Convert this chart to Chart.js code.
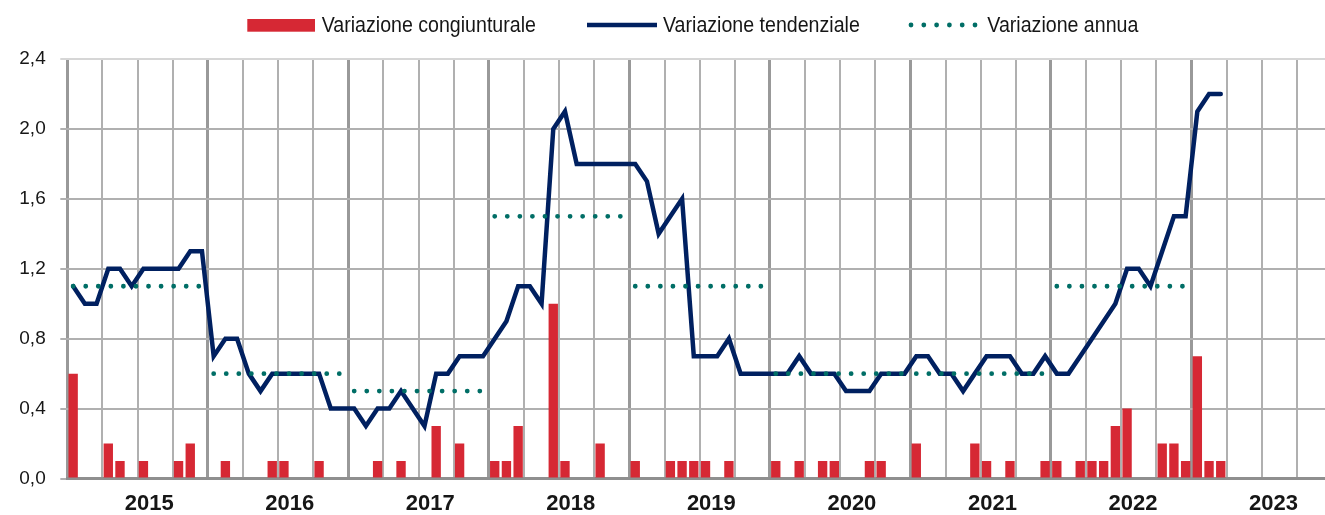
<!DOCTYPE html>
<html>
<head>
<meta charset="utf-8">
<script src="https://cdn.jsdelivr.net/npm/chart.js@4.4.1/dist/chart.umd.min.js"></script>
<style>
  html, body { margin: 0; padding: 0; background: #ffffff; overflow: hidden; }
  #wrap { position: relative; width: 1340px; height: 515px; }
</style>
</head>
<body>
<div id="wrap"><canvas id="c"></canvas></div>
<script>
// ---------------- DATA ----------------
const years = ['2015', '2016', '2017', '2018', '2019', '2020', '2021', '2022', '2023'];
const monthNames = ['gen', 'feb', 'mar', 'apr', 'mag', 'giu', 'lug', 'ago', 'set', 'ott', 'nov', 'dic'];

// Variazione congiunturale (monthly, Jan 2015 - Mar 2023)
const congiunturale = [
  0.6, 0, 0, 0.2, 0.1, 0, 0.1, 0, 0, 0.1, 0.2, 0,      // 2015
  0, 0.1, 0, 0, 0, 0.1, 0.1, 0, 0, 0.1, 0, 0,          // 2016
  0, 0, 0.1, 0, 0.1, 0, 0, 0.3, 0, 0.2, 0, 0,          // 2017
  0.1, 0.1, 0.3, 0, 0, 1.0, 0.1, 0, 0, 0.2, 0, 0,      // 2018
  0.1, 0, 0, 0.1, 0.1, 0.1, 0.1, 0, 0.1, 0, 0, 0,      // 2019
  0.1, 0, 0.1, 0, 0.1, 0.1, 0, 0, 0.1, 0.1, 0, 0,      // 2020
  0.2, 0, 0, 0, 0, 0.2, 0.1, 0, 0.1, 0, 0, 0.1,        // 2021
  0.1, 0, 0.1, 0.1, 0.1, 0.3, 0.4, 0, 0, 0.2, 0.2, 0.1,// 2022
  0.7, 0.1, 0.1                                        // 2023
];

// Variazione tendenziale (monthly, Jan 2015 - Mar 2023)
const tendenziale = [
  1.1, 1.0, 1.0, 1.2, 1.2, 1.1, 1.2, 1.2, 1.2, 1.2, 1.3, 1.3, // 2015
  0.7, 0.8, 0.8, 0.6, 0.5, 0.6, 0.6, 0.6, 0.6, 0.6, 0.4, 0.4, // 2016
  0.4, 0.3, 0.4, 0.4, 0.5, 0.4, 0.3, 0.6, 0.6, 0.7, 0.7, 0.7, // 2017
  0.8, 0.9, 1.1, 1.1, 1.0, 2.0, 2.1, 1.8, 1.8, 1.8, 1.8, 1.8, // 2018
  1.8, 1.7, 1.4, 1.5, 1.6, 0.7, 0.7, 0.7, 0.8, 0.6, 0.6, 0.6, // 2019
  0.6, 0.6, 0.7, 0.6, 0.6, 0.6, 0.5, 0.5, 0.5, 0.6, 0.6, 0.6, // 2020
  0.7, 0.7, 0.6, 0.6, 0.5, 0.6, 0.7, 0.7, 0.7, 0.6, 0.6, 0.7, // 2021
  0.6, 0.6, 0.7, 0.8, 0.9, 1.0, 1.2, 1.2, 1.1, 1.3, 1.5, 1.5, // 2022
  2.1, 2.2, 2.2                                               // 2023
];

// Variazione annua (one value per year 2015 - 2022)
const annua = [1.1, 0.6, 0.5, 1.5, 1.1, 0.6, 0.6, 1.1];

// y-axis ticks
const yMin = 0, yMax = 2.4, yStep = 0.4;

// ---------------- BUILD ----------------
const labels = [];
years.forEach(y => monthNames.forEach(m => labels.push(m + ' ' + y)));
const annuaMonthly = labels.map((_, i) => {
  const yi = Math.floor(i / 12);
  return yi < annua.length ? annua[yi] : null;
});

const RED = '#d62834';
const NAVY = '#002060';
const TEAL = '#006e66';
const FONT = "'Liberation Sans', Arial, Helvetica, sans-serif";
const TEXT = '#161616';
const CAT_W = 11.71;

const legendPlugin = {
  id: 'customLegend',
  afterDraw(chart) {
    const ctx = chart.ctx;
    const ds = chart.data.datasets;
    const cy = 25;
    ctx.save();
    // bar swatch
    ctx.fillStyle = RED;
    ctx.fillRect(247.3, 19, 67.7, 12.7);
    // line swatch
    ctx.strokeStyle = NAVY;
    ctx.lineWidth = 4.5;
    ctx.beginPath();
    ctx.moveTo(587, cy);
    ctx.lineTo(657, cy);
    ctx.stroke();
    // dotted swatch
    ctx.fillStyle = TEAL;
    for (let k = 0; k < 6; k++) {
      ctx.beginPath();
      ctx.arc(911 + k * 12.8, cy, 2.4, 0, Math.PI * 2);
      ctx.fill();
    }
    // texts
    ctx.fillStyle = TEXT;
    ctx.font = '19.6px ' + FONT;
    ctx.textBaseline = 'alphabetic';
    ctx.textAlign = 'left';
    const items = [[ds[2].label, 321.7], [ds[1].label, 663], [ds[0].label, 987.3]];
    items.forEach(([t, x]) => {
      ctx.save();
      ctx.translate(x, 32.3);
      ctx.scale(1, 1.12);
      ctx.fillText(t, 0, 0);
      ctx.restore();
    });
    ctx.restore();
  }
};

const chart = new Chart(document.getElementById('c'), {
  type: 'bar',
  data: {
    labels: labels,
    datasets: [
      {
        type: 'line',
        label: 'Variazione annua',
        data: annuaMonthly,
        borderColor: TEAL,
        borderWidth: 4.8,
        borderDash: [0.01, 12.55],
        borderCapStyle: 'round',
        pointRadius: 0,
        tension: 0,
        fill: false,
        spanGaps: false,
        order: 0,
        segment: {
          borderColor: ctx => (ctx.p0DataIndex % 12 === 11 ? 'rgba(0,0,0,0)' : TEAL)
        }
      },
      {
        type: 'line',
        label: 'Variazione tendenziale',
        data: tendenziale,
        borderColor: NAVY,
        borderWidth: 4.5,
        borderCapStyle: 'round',
        borderJoinStyle: 'miter',
        pointRadius: 0,
        tension: 0,
        fill: false,
        order: 1
      },
      {
        type: 'bar',
        label: 'Variazione congiunturale',
        data: congiunturale,
        backgroundColor: RED,
        borderWidth: 0,
        barPercentage: 0.8,
        categoryPercentage: 1.0,
        order: 2
      }
    ]
  },
  options: {
    responsive: true,
    maintainAspectRatio: false,
    animation: false,
    events: [],
    layout: { padding: { left: 0, right: 8, top: 59, bottom: 0 } },
    plugins: {
      legend: { display: false },
      tooltip: { enabled: false },
      title: { display: false }
    },
    scales: {
      x: {
        type: 'category',
        offset: true,
        grid: {
          offset: true,
          drawTicks: false,
          color: ctx => (ctx.index % 12 === 0 ? '#999999' : (ctx.index % 3 === 0 ? '#b0b0b0' : 'rgba(0,0,0,0)')),
          lineWidth: ctx => (ctx.index % 12 === 0 ? 3 : 2)
        },
        border: { display: true, color: '#8f8f8f', width: 3 },
        ticks: {
          autoSkip: false,
          maxRotation: 0,
          minRotation: 0,
          padding: 12,
          labelOffset: -CAT_W / 2,
          color: TEXT,
          font: { family: FONT, size: 22, weight: 'bold' },
          callback: (v, i) => (i % 12 === 7 ? years[Math.floor(i / 12)] : '')
        },
        afterFit: s => { s.height = 36.5; }
      },
      y: {
        min: yMin,
        max: yMax,
        grid: {
          drawTicks: true,
          tickLength: 7,
          color: ctx => (ctx.tick && Math.abs(ctx.tick.value - yMax) < 1e-6 ? '#d6d6d6' : '#b0b0b0'),
          lineWidth: 2
        },
        border: { display: false },
        ticks: {
          stepSize: yStep,
          padding: 14.6,
          color: TEXT,
          font: { family: FONT, size: 19 },
          callback: v => v.toFixed(1).replace('.', ',')
        },
        afterFit: s => { s.width = 67.3; }
      }
    }
  },
  plugins: [legendPlugin]
});
</script>
</body>
</html>
